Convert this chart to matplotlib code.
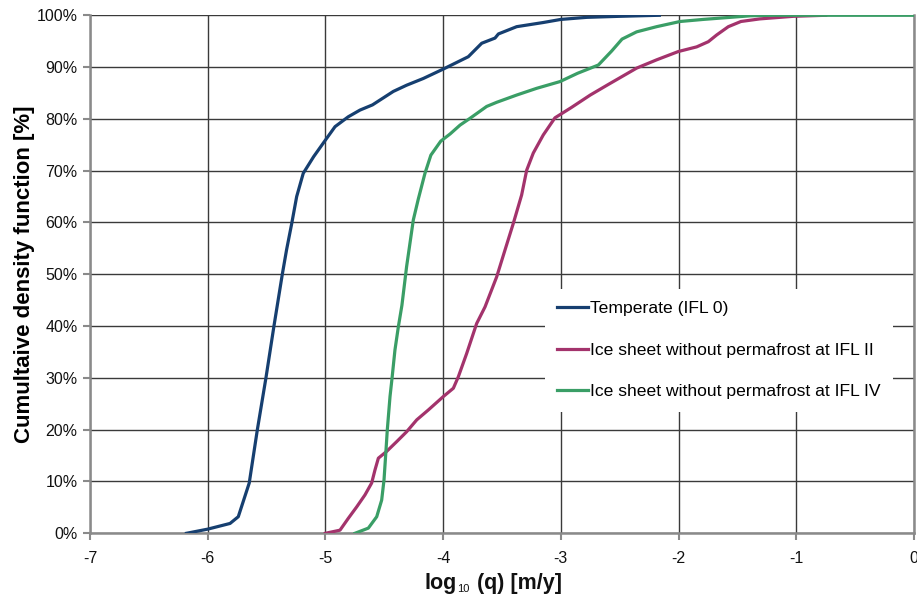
import matplotlib
matplotlib.use("Agg")
import matplotlib.pyplot as plt
from matplotlib.ticker import FixedLocator, FuncFormatter

plt.rcParams['font.family'] = ['Liberation Sans', 'DejaVu Sans']

# Temperate (IFL 0)
temp_x = [-6.18, -6.0, -5.81, -5.74, -5.647, -5.578, -5.505, -5.437, -5.366, -5.33,
          -5.286, -5.244, -5.188, -5.10, -5.0, -4.918, -4.806, -4.706, -4.60, -4.423,
          -4.31, -4.168, -4.0, -3.884, -3.786, -3.672, -3.559, -3.53, -3.375, -3.15,
          -3.0, -2.78, -2.5, -2.163]
temp_y = [0, 0.8, 1.9, 3.2, 9.7, 20, 30, 40, 50, 54.7,
          59.8, 65, 69.5, 72.7, 75.9, 78.5, 80.4, 81.7, 82.7, 85.3,
          86.5, 87.8, 89.6, 90.9, 92, 94.6, 95.6, 96.4, 97.8, 98.6,
          99.2, 99.6, 99.8, 100]

# Ice sheet without permafrost at IFL II
ifl2_x = [-5.0, -4.876, -4.805, -4.734, -4.664, -4.607, -4.579, -4.55, -4.48, -4.394,
          -4.31, -4.224, -4.126, -3.998, -3.913, -3.871, -3.8, -3.715, -3.644, -3.545,
          -3.474, -3.404, -3.333, -3.29, -3.234, -3.149, -3.05, -2.91, -2.75, -2.6,
          -2.356, -2.186, -2.002, -1.846, -1.747, -1.676, -1.577, -1.47, -1.31, -1.025,
          -0.75]
ifl2_y = [0, 0.6, 2.9, 5.1, 7.4, 9.7, 12.2, 14.5, 15.8, 17.7,
          19.6, 21.9, 23.8, 26.4, 28, 30.2, 34.7, 40.5, 43.7, 49.5,
          54.7, 59.8, 65.3, 70.1, 73.4, 76.9, 80.2, 82.2, 84.6, 86.6,
          89.8, 91.4, 93, 93.9, 94.9, 96.2, 97.8, 98.8, 99.3, 99.8,
          100]

# Ice sheet without permafrost at IFL IV
ifl4_x = [-4.749, -4.635, -4.564, -4.522, -4.502, -4.485, -4.474, -4.451, -4.434, -4.409,
          -4.38, -4.35, -4.31, -4.253, -4.211, -4.154, -4.104, -4.02, -3.94, -3.856,
          -3.772, -3.63, -3.545, -3.375, -3.205, -3.007, -2.858, -2.681, -2.568, -2.48,
          -2.356, -2.186, -1.987, -1.79, -1.39, -1.2, 0.0]
ifl4_y = [0, 1, 3.2, 6.4, 10.3, 16.1, 20, 26.4, 29.9, 35.4,
          39.9, 44, 51.5, 60.5, 64.5, 69.5, 73, 75.7, 77.1, 78.8,
          80.1, 82.4, 83.2, 84.6, 85.9, 87.2, 88.8, 90.4, 93.1, 95.4,
          96.8, 97.8, 98.8, 99.2, 99.9, 100, 100]

x_ticks = [-7, -6, -5, -4, -3, -2, -1, 0]
y_ticks = [0, 10, 20, 30, 40, 50, 60, 70, 80, 90, 100]

fig = plt.figure(figsize=(9.17, 5.99), dpi=100)
ax = fig.add_axes([0.0981, 0.1097, 0.8986, 0.8648])

ax.plot(temp_x, temp_y, color='#163f70', lw=2.3, label='Temperate (IFL 0)', zorder=3)
ax.plot(ifl2_x, ifl2_y, color='#a3336c', lw=2.3, label='Ice sheet without permafrost at IFL II', zorder=3)
ax.plot(ifl4_x, ifl4_y, color='#3a9e66', lw=2.3, label='Ice sheet without permafrost at IFL IV', zorder=4)

ax.set_xlim(-7, 0)
ax.set_ylim(0, 100)
ax.xaxis.set_major_locator(FixedLocator(x_ticks))
ax.yaxis.set_major_locator(FixedLocator(y_ticks))
ax.yaxis.set_major_formatter(FuncFormatter(lambda v, p: f"{int(v)}%"))
ax.xaxis.set_major_formatter(FuncFormatter(lambda v, p: f"{int(v)}"))

ax.grid(True, color='#3a3a3a', lw=1.0, zorder=1)
ax.set_axisbelow(True)
ax.spines['top'].set_visible(False)
for s in ['left', 'bottom', 'right']:
    ax.spines[s].set_color('#8a8a8a')
    ax.spines[s].set_linewidth(1.8)
ax.tick_params(axis='both', length=5, width=1.5, color='#8a8a8a', labelsize=11.5, labelcolor='#111111', pad=4)
ax.tick_params(axis='x', pad=8)

ax.set_ylabel('Cumultaive density function [%]', fontsize=16, fontweight='bold', labelpad=1)

# x label built from pieces: bold "log", small regular subscript "10", bold rest
fig.canvas.draw()
renderer = fig.canvas.get_renderer()
y_lab = 0.0175
parts = [('log', 15.5, 'bold', 0.0), ('10', 8, 'normal', -0.006), (' (q) [m/y]', 15.5, 'bold', 0.0)]
objs = []
for txt, fs, fw, dy in parts:
    t = fig.text(0, y_lab + dy, txt, fontsize=fs, fontweight=fw, ha='left', va='baseline', color='#111111')
    objs.append(t)
widths = [o.get_window_extent(renderer).width for o in objs]
total = sum(widths) + 2
x_center_px = fig.bbox.width * (0.0981 + 0.8986 / 2) - 9
xpos = x_center_px - total / 2
for o, w in zip(objs, widths):
    o.set_x(xpos / fig.bbox.width)
    xpos += w + 1

leg = ax.legend(loc='upper left', bbox_to_anchor=(0.552, 0.472), fontsize=12.6,
                frameon=True, facecolor='white', edgecolor='none', framealpha=1,
                fancybox=False, handlelength=1.75, handletextpad=0.15, labelspacing=1.5,
                borderpad=0.7, borderaxespad=0)
leg.set_zorder(5)

fig.savefig('out.png', dpi=100)
